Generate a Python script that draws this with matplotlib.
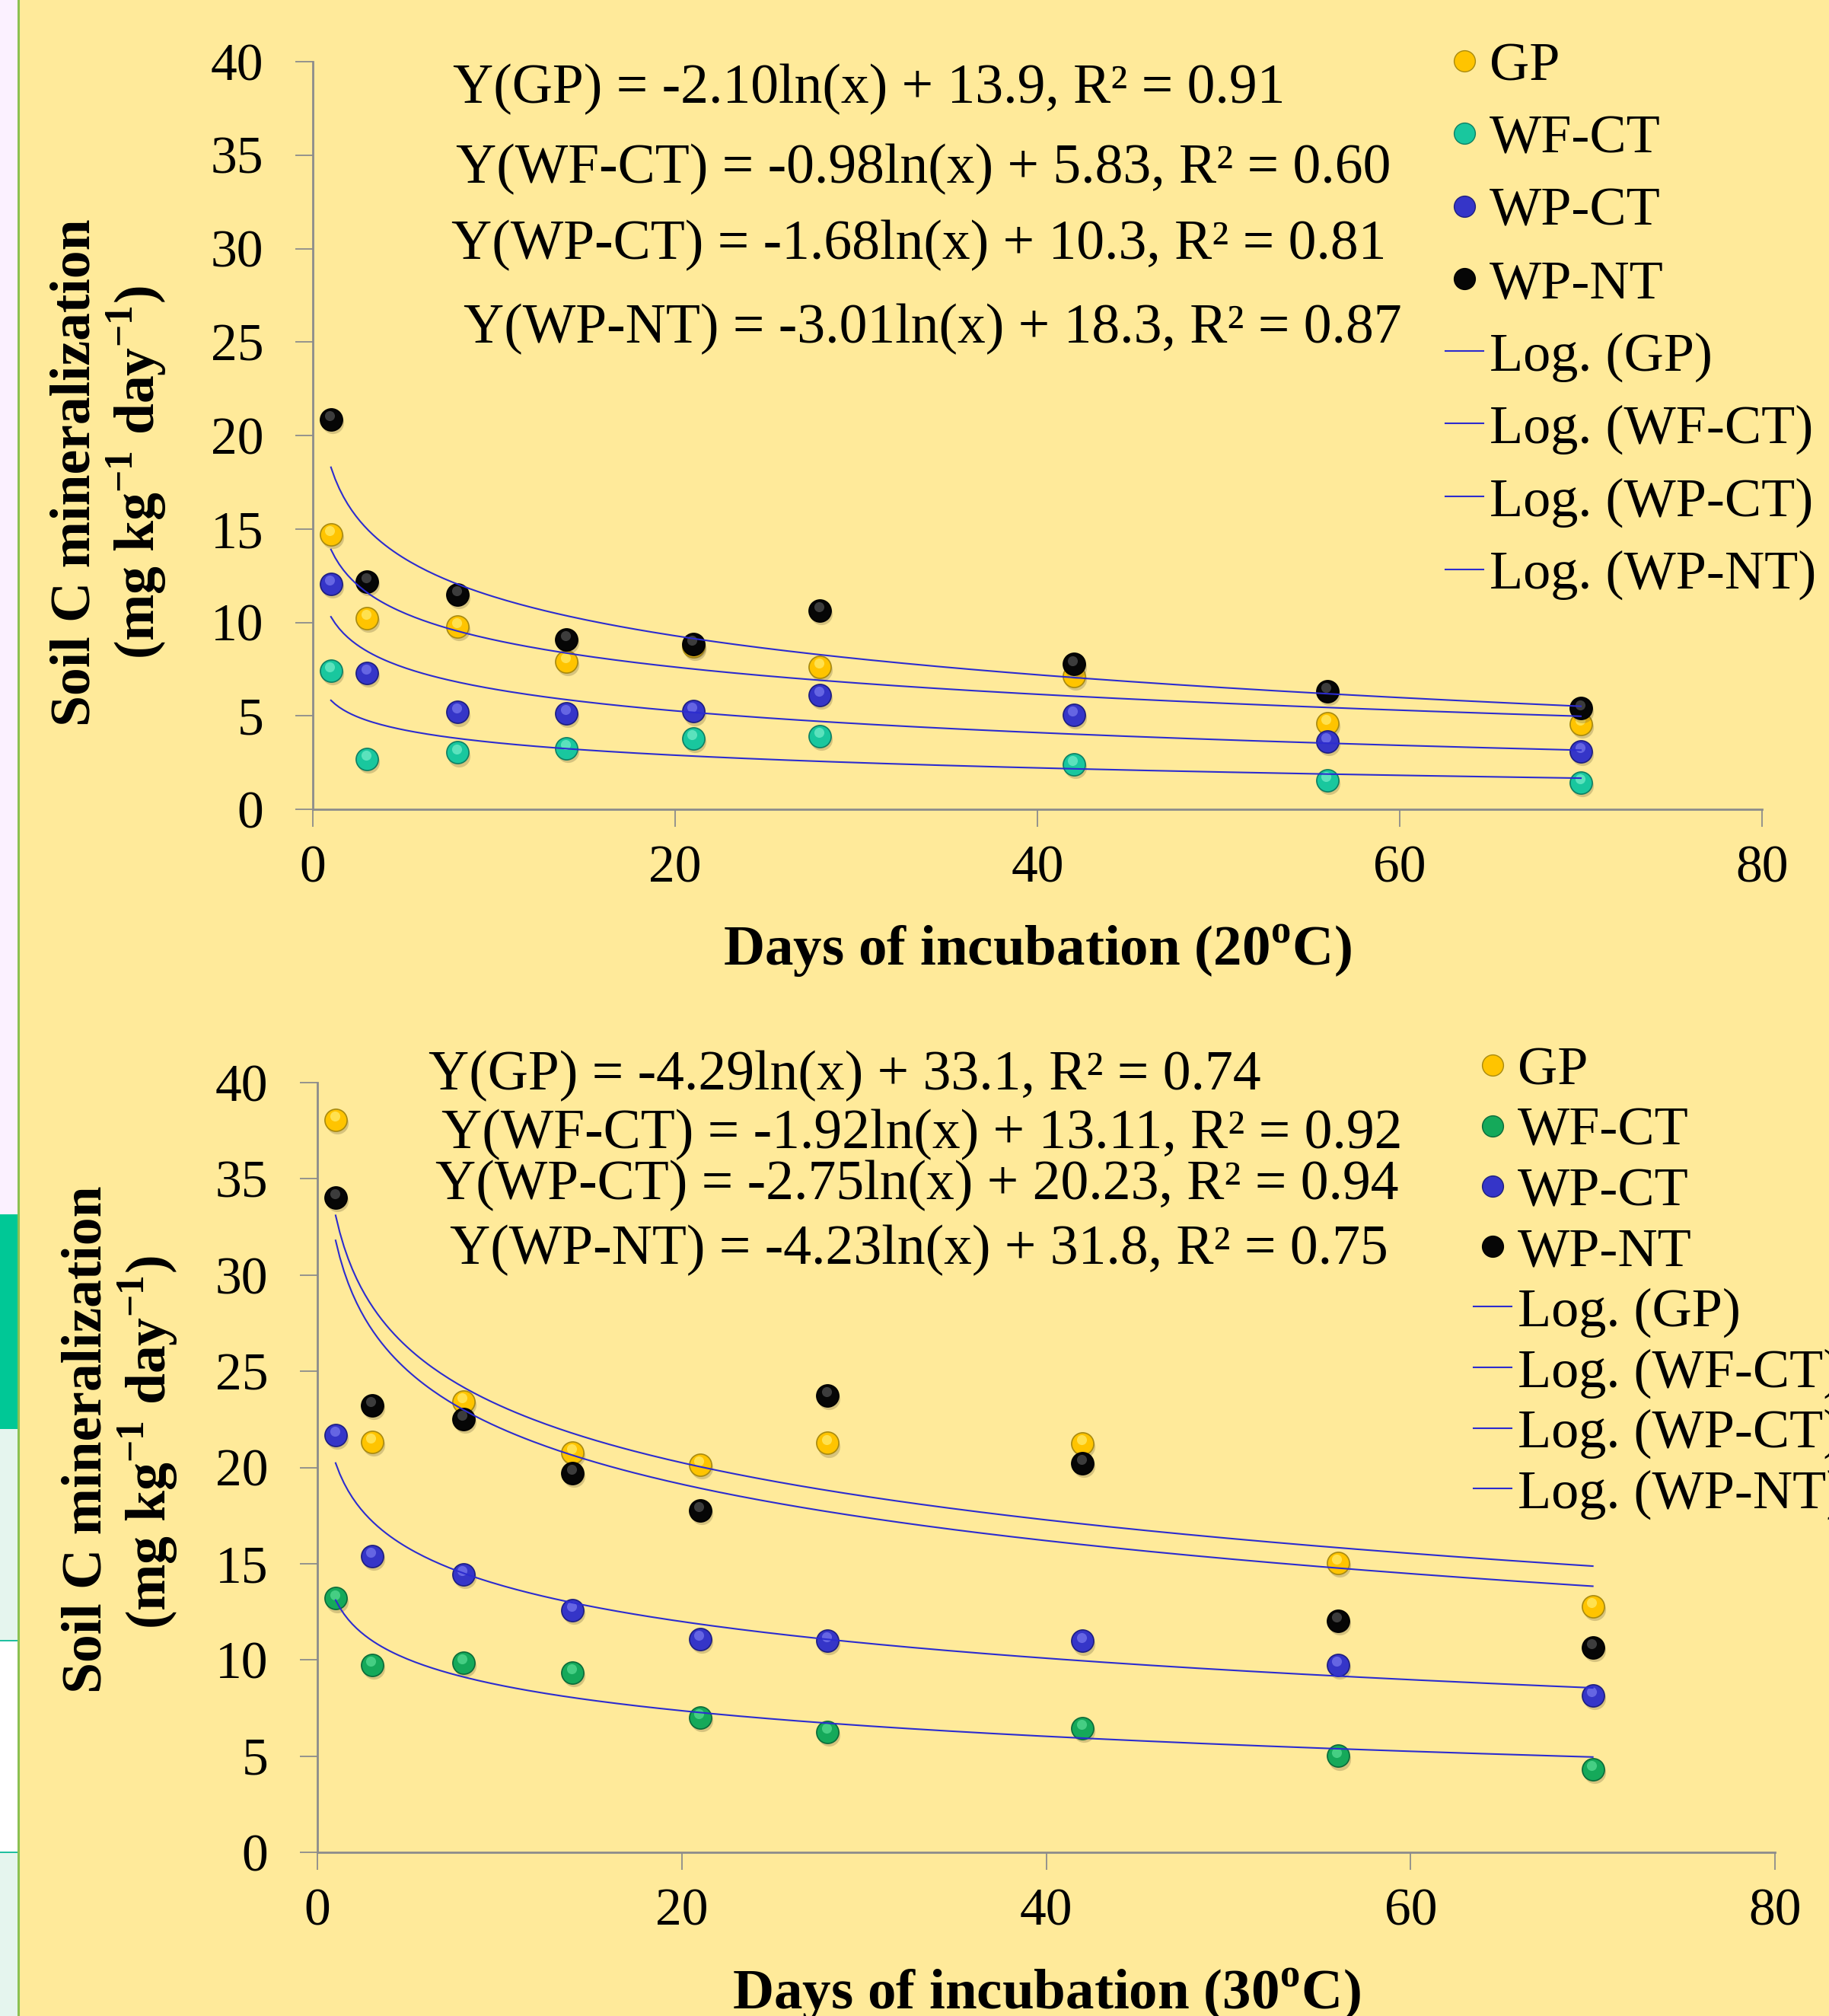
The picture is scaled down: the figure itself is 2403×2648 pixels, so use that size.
import numpy as np
import matplotlib
matplotlib.use("Agg")
import matplotlib.pyplot as plt
import matplotlib.transforms as mtransforms
from matplotlib.lines import Line2D
from matplotlib.patches import Rectangle

W, H, DPI = 2403, 2648, 100

# ---- data ----
days = [1, 3, 8, 14, 21, 28, 42, 56, 70]
names = ["GP", "WF-CT", "WP-CT", "WP-NT"]

gp_20 = [14.72, 10.22, 9.78, 7.92, 8.72, 7.62, 7.12, 4.6, 4.55]
wfct_20 = [7.43, 2.7, 3.04, 3.25, 3.78, 3.9, 2.4, 1.54, 1.42]
wpct_20 = [12.06, 7.31, 5.2, 5.14, 5.24, 6.1, 5.04, 3.62, 3.09]
wpnt_20 = [20.87, 12.18, 11.5, 9.1, 8.85, 10.64, 7.76, 6.33, 5.4]

gp_30 = [38.06, 21.32, 23.42, 20.77, 20.14, 21.27, 21.24, 15.05, 12.79]
wfct_30 = [13.2, 9.73, 9.87, 9.33, 7.0, 6.27, 6.46, 5.01, 4.3]
wpct_30 = [21.7, 15.4, 14.45, 12.6, 11.07, 11.0, 10.98, 9.75, 8.17]
wpnt_30 = [34.04, 23.22, 22.5, 19.7, 17.77, 23.73, 20.22, 12.04, 10.66]

# log trend coefficients printed on the chart
slope_20 = [-2.10, -0.98, -1.68, -3.01]
icept_20 = [13.9, 5.83, 10.3, 18.3]
slope_30 = [-4.29, -1.92, -2.75, -4.23]
icept_30 = [33.1, 13.11, 20.23, 31.8]

eq_20 = [
    "Y(GP) = -2.10ln(x) + 13.9, R² = 0.91",
    "Y(WF-CT) = -0.98ln(x) + 5.83, R² = 0.60",
    "Y(WP-CT) = -1.68ln(x) + 10.3, R² = 0.81",
    "Y(WP-NT) = -3.01ln(x) + 18.3, R² = 0.87",
]
eq_30 = [
    "Y(GP) = -4.29ln(x) + 33.1, R² = 0.74",
    "Y(WF-CT) = -1.92ln(x) + 13.11, R² = 0.92",
    "Y(WP-CT) = -2.75ln(x) + 20.23, R² = 0.94",
    "Y(WP-NT) = -4.23ln(x) + 31.8, R² = 0.75",
]

x_ticks = [0, 20, 40, 60, 80]
y_ticks = [0, 5, 10, 15, 20, 25, 30, 35, 40]

# ---- style ----
BG = "#FFEA9A"
AXIS = "#8C8C8C"
TREND = "#2C2CCF"
# (face, edge, highlight)
BALL_20 = {
    "GP": ("#FFC400", "#A88A10", "#FFF27A"),
    "WF-CT": ("#19C79E", "#0E7F63", "#7FF2CF"),
    "WP-CT": ("#3535C8", "#1E1E80", "#8080F2"),
    "WP-NT": ("#060606", "#000000", "#5A5A5A"),
}
BALL_30 = dict(BALL_20)
BALL_30["WF-CT"] = ("#15A95A", "#0B6B39", "#5FE39A")

plt.rcParams["font.family"] = ["Liberation Serif", "DejaVu Serif"]
plt.rcParams["mathtext.fontset"] = "custom"
plt.rcParams["mathtext.rm"] = "Liberation Serif"

fig = plt.figure(figsize=(W / DPI, H / DPI), dpi=DPI, facecolor=BG)


def fx(px):
    return px / W


def fy(py):
    return 1 - py / H


# slide leftovers on the left edge
for x0, y0, w, h, c in [
    (0, 0, 23, H, "#FBF1FF"),
    (0, 1595, 23, 282, "#00C896"),
    (0, 1877, 23, 277, "#E5F5EE"),
    (0, 2154, 23, 278, "#FFFFFF"),
    (0, 2432, 23, 216, "#E5F5EE"),
]:
    fig.patches.append(Rectangle((fx(x0), fy(y0 + h)), fx(w), h / H,
                                 transform=fig.transFigure, color=c, lw=0, zorder=0))
fig.patches.append(Rectangle((fx(23), 0), fx(3), 1, transform=fig.transFigure,
                             color="#8CC152", lw=0, zorder=0))
for yy in (2154, 2432):
    fig.patches.append(Rectangle((0, fy(yy + 2)), fx(23), 2 / H,
                                 transform=fig.transFigure, color="#20C0A0", lw=0))


def ball(ax, x, y, colors, z, size=21):
    face, edge, light = colors
    shadow = ax.transData + mtransforms.ScaledTranslation(1.5 / 72, -3 / 72, fig.dpi_scale_trans)
    ax.plot(x, y, "o", ms=size, mfc="#7A6A40", mec="none", alpha=0.3,
            transform=shadow, zorder=z, clip_on=False)
    ax.plot(x, y, "o", ms=size, mfc=face, mec=edge, mew=1.2, zorder=z + 0.01, clip_on=False)
    hl = ax.transData + mtransforms.ScaledTranslation(-1 / 72, 3.5 / 72, fig.dpi_scale_trans)
    ax.plot(x, y, "o", ms=size * 0.45, mfc=light, mec="none", alpha=0.65,
            transform=hl, zorder=z + 0.02, clip_on=False)


def make_panel(box, values, slopes, icepts, balls):
    left, top, right, bottom = box
    ax = fig.add_axes([fx(left), fy(bottom), fx(right - left), (bottom - top) / H])
    ax.set_facecolor("none")
    for i, (name, vals) in enumerate(zip(names, values)):
        ball(ax, days, vals, balls[name], 3 + i * 0.1)
    xs = np.linspace(days[0], days[-1], 300)
    for s, b in zip(slopes, icepts):
        ax.plot(xs, s * np.log(xs) + b, color=TREND, lw=1.5, zorder=5)
    ax.set_xlim(0, 80)
    ax.set_ylim(0, 40)
    ax.set_xticks(x_ticks)
    ax.set_yticks(y_ticks)
    for sp in ("top", "right"):
        ax.spines[sp].set_visible(False)
    for sp in ("left", "bottom"):
        ax.spines[sp].set_color(AXIS)
        ax.spines[sp].set_linewidth(2)
    ax.tick_params(axis="both", direction="out", length=16.5, width=1.3,
                   color=AXIS, labelsize=50)
    ax.tick_params(axis="x", pad=17)
    ax.tick_params(axis="y", pad=30)
    return ax


ax1 = make_panel((411, 81, 2315, 1063), [gp_20, wfct_20, wpct_20, wpnt_20],
                 slope_20, icept_20, BALL_20)
ax2 = make_panel((417, 1422, 2332, 2433), [gp_30, wfct_30, wpct_30, wpnt_30],
                 slope_30, icept_30, BALL_30)

# equations
for txt, (x, y) in zip(eq_20, [(1142, 135), (1213, 240), (1207, 340), (1225, 450)]):
    fig.text(fx(x), fy(y), txt, ha="center", va="baseline", fontsize=53)
for txt, (x, y) in zip(eq_30, [(1110, 1431), (1211, 1508), (1205, 1575), (1207, 1660)]):
    fig.text(fx(x), fy(y), txt, ha="center", va="baseline", fontsize=53)

# axis titles
ylab1 = "Soil C mineralization"
ylab2 = r"(mg kg$^{\mathregular{-1}}$ day$^{\mathregular{-1}}$)"
for x, y, t in [(118, 621, ylab1), (203, 621, ylab2), (133, 1891, ylab1), (218, 1895, ylab2)]:
    fig.text(fx(x), fy(y), t, rotation=90, rotation_mode="anchor", ha="center",
             va="baseline", fontsize=53, fontweight="bold")
fig.text(fx(1363), fy(1268), r"Days of incubation (20$^{\mathregular{o}}$C)",
         ha="center", va="baseline", fontsize=54, fontweight="bold")
fig.text(fx(1375), fy(2639), r"Days of incubation (30$^{\mathregular{o}}$C)",
         ha="center", va="baseline", fontsize=54, fontweight="bold")


# legends
def legend_handles(balls):
    hs = [Line2D([], [], ls="none", marker="o", ms=20, mfc=balls[n][0], mec=balls[n][1])
          for n in names]
    hs += [Line2D([], [], color=TREND, lw=1.5) for _ in names]
    labels = names + [f"Log. ({n})" for n in names]
    return hs, labels


h, l = legend_handles(BALL_20)
fig.legend(h, l, loc="upper left", bbox_to_anchor=(fx(1899), fy(55)), frameon=False,
           fontsize=52, borderpad=0, borderaxespad=0, handlelength=0.69,
           handletextpad=0.11, labelspacing=0.41)
h, l = legend_handles(BALL_30)
fig.legend(h, l, loc="upper left", bbox_to_anchor=(fx(1936), fy(1374)), frameon=False,
           fontsize=52, borderpad=0, borderaxespad=0, handlelength=0.69,
           handletextpad=0.11, labelspacing=0.19)

fig.savefig("out.png", dpi=DPI, facecolor=BG)
